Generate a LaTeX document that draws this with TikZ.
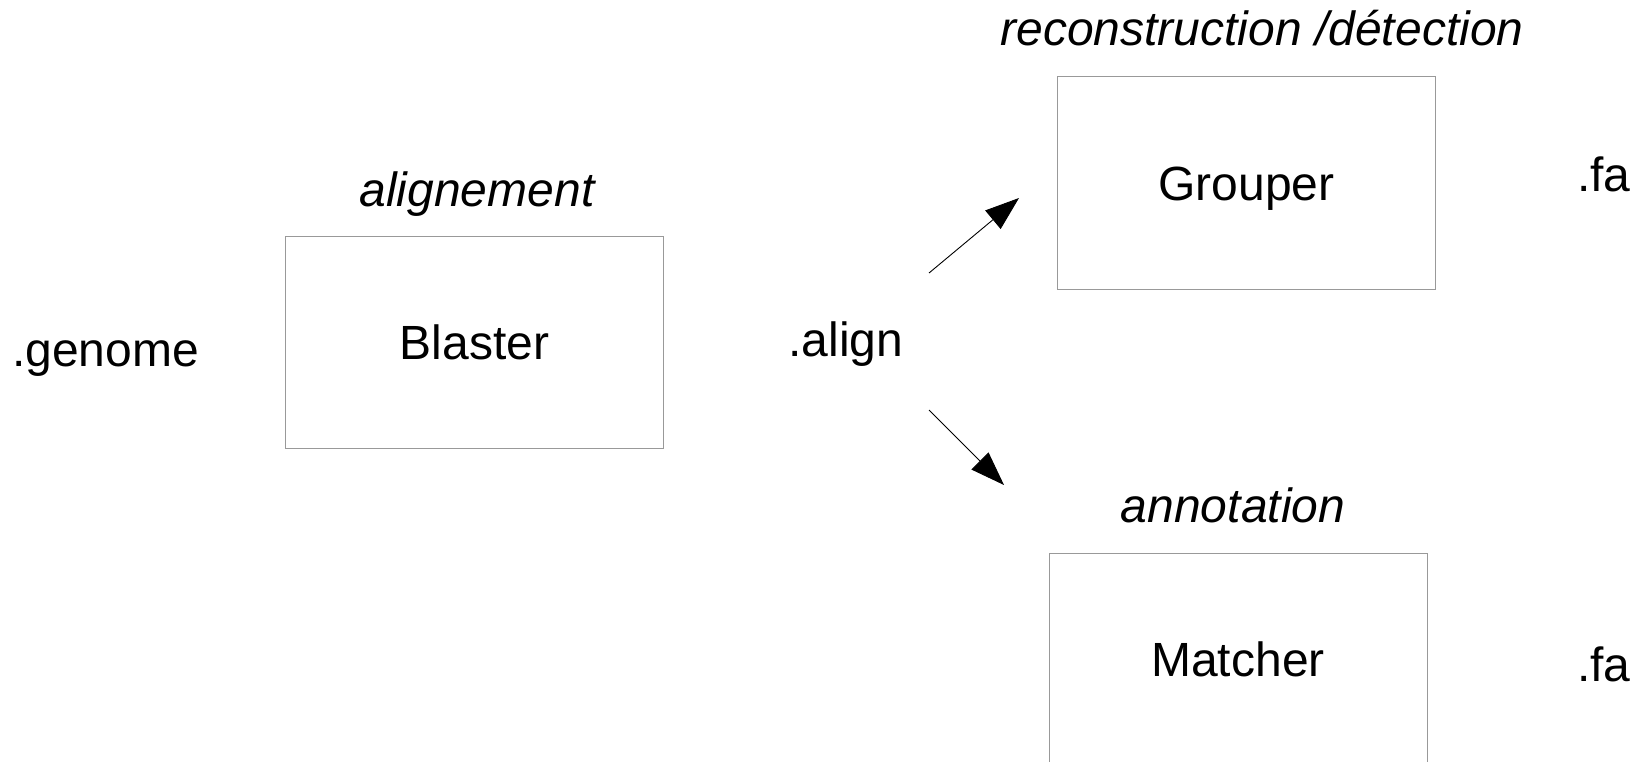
\documentclass[tikz,border=0pt]{standalone}
\usepackage{fontspec}
\setmainfont{Liberation Sans}
\usetikzlibrary{arrows.meta}
\tikzset{
  label text/.style={font=\fontsize{48}{58}\selectfont, inner sep=0pt, anchor=base},
  caption text/.style={label text, font=\fontsize{48}{58}\selectfont\itshape},
  stage/.style={draw=black!40, line width=1pt, minimum width=378pt, minimum height=212pt,
    inner sep=0pt, text height=34.4pt, text depth=0pt, font=\fontsize{48}{58}\selectfont},
  flow/.style={line width=0.9pt, -{Triangle[length=34pt,width=24pt]}}
}
\begin{document}
\begin{tikzpicture}[x=1pt,y=-1pt]
  \useasboundingbox (0,0) rectangle (1637,762);
  \clip (0,0) rectangle (1637,762);
  \fill[white] (0,0) rectangle (1637,762);

  % processing stages
  \node[stage] (blaster) at (474.5,342) {Blaster};
  \node[stage] (grouper) at (1246.5,183) {Grouper};
  \node[stage] (matcher) at (1238,659) {Matcher};

  % stage captions
  \node[caption text] (capA) at (477,206) {alignement};
  \node[caption text] (capG) at (1262,46) {reconstruction /détection};
  \node[caption text] (capM) at (1233,522) {annotation};

  % file formats
  \node[label text, anchor=base west] (genome) at (12,366) {.genome};
  \node[label text] (align) at (846,356) {.align};
  \node[label text, anchor=base west] (faG) at (1577,191) {.fa};
  \node[label text, anchor=base west] (faM) at (1577,681) {.fa};

  % flow from the alignment to both branches
  \coordinate (upS) at (929,273);
  \coordinate (upE) at (1019,198);
  \coordinate (dnS) at (929,410);
  \coordinate (dnE) at (1004,485);
  \draw[flow] (upS) -- (upE);
  \draw[flow] (dnS) -- (dnE);
\end{tikzpicture}
\end{document}
